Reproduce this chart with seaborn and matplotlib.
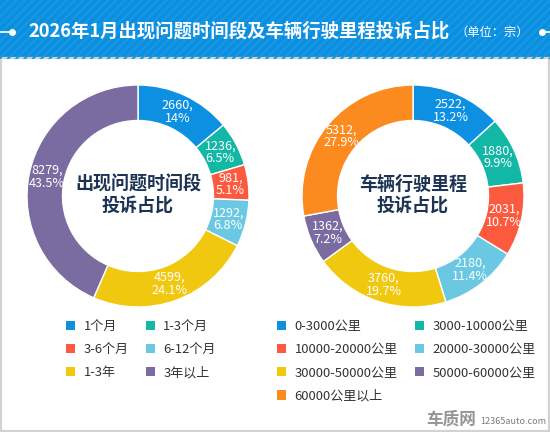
import matplotlib
matplotlib.use("Agg")
import matplotlib.pyplot as plt
import seaborn as sns
import numpy as np
from matplotlib.patches import Rectangle

# data
time_labels = ['1个月', '1-3个月', '3-6个月', '6-12个月', '1-3年', '3年以上']
time_values = [2660, 1236, 981, 1292, 4599, 8279]
time_pcts = ['14%', '6.5%', '5.1%', '6.8%', '24.1%', '43.5%']

km_labels = ['0-3000公里', '3000-10000公里', '10000-20000公里', '20000-30000公里',
             '30000-50000公里', '50000-60000公里', '60000公里以上']
km_values = [2522, 1880, 2031, 2180, 3760, 1362, 5312]
km_pcts = ['13.2%', '9.9%', '10.7%', '11.4%', '19.7%', '7.2%', '27.9%']

colors = ['#0e90e2', '#13b7a5', '#fc5a3f', '#6ac8e3', '#f0c80f', '#7a6ca0', '#fb8b1e']

title = '2026年1月出现问题时间段及车辆行驶里程投诉占比'
unit = '（单位：宗）'

sns.set_theme(style="white")
plt.rcParams['font.family'] = ['Noto Sans CJK SC', 'DejaVu Sans']

W, H = 550, 432
fig = plt.figure(figsize=(5.5, 4.32), dpi=100)
ax = fig.add_axes([0, 0, 1, 1])


def Y(y):
    # top-based pixel y to axes y
    return H - y


def donut(values, pcts, cx, cy, center_text):
    R = 111
    w = 0.32
    wedges, _ = ax.pie(values, colors=sns.color_palette(colors[:len(values)]),
                       startangle=90, counterclock=False, radius=R,
                       center=(cx, Y(cy)),
                       wedgeprops=dict(width=R * w, edgecolor='white', linewidth=1))
    rm = R * (1 - w / 2)
    for wd, v, p in zip(wedges, values, pcts):
        a = np.deg2rad((wd.theta1 + wd.theta2) / 2)
        ax.text(cx + rm * np.cos(a), Y(cy) + rm * np.sin(a), f'{v},\n{p}',
                ha='center', va='center', color='white', fontsize=9.1,
                linespacing=1.0)
    ax.text(cx, Y(cy) + 1, center_text, ha='center', va='center', color='#1c3354',
            fontsize=13, fontweight='bold', linespacing=1.15)
    return wedges


def row_order(items):
    # legend fills by column, the picture reads by row
    return list(items[0::2]) + list(items[1::2])


w1 = donut(time_values, time_pcts, 138, 196, '出现问题时间段\n投诉占比')
w2 = donut(km_values, km_pcts, 413, 196, '车辆行驶里程\n投诉占比')

ax.set_xlim(0, W)
ax.set_ylim(0, H)
ax.set_aspect('equal')
ax.axis('off')

# header bar
ax.add_patch(Rectangle((0, Y(59)), W, 59, facecolor='#0a8fe0', edgecolor='none', zorder=0))
plt.rcParams['hatch.linewidth'] = 1.5
ax.add_patch(Rectangle((0, Y(59)), W, 59, facecolor='none', edgecolor='#1997e3',
                       hatch='////', linewidth=0, zorder=0.5))
# frame
ax.add_patch(Rectangle((0.8, 0.8), W - 1.6, H - 59, facecolor='none', edgecolor='#d2d2d2',
                       linewidth=1.6, zorder=0))

ax.plot([0, 12], [Y(32), Y(32)], color='white', lw=1.2)
ax.plot([12], [Y(32)], 'o', color='white', ms=4)
ax.plot([542, 550], [Y(32), Y(32)], color='white', lw=1.2)
ax.plot([542], [Y(32)], 'o', color='white', ms=4)
ax.text(28, Y(31), title, color='white', fontsize=13.2, fontweight='bold', va='center', ha='left')
ax.text(455, Y(32), unit, color='white', fontsize=8.8, va='center', ha='left')

leg_kw = dict(frameon=False, ncol=2, fontsize=9.4, handlelength=0.7, handleheight=0.7,
              handletextpad=0.65, columnspacing=1.3, labelspacing=0.78,
              borderpad=0, borderaxespad=0, loc='upper left', bbox_transform=ax.transData,
              labelcolor='#333333')
leg1 = ax.legend(row_order(w1), row_order(time_labels), bbox_to_anchor=(66, Y(320)), **leg_kw)
ax.add_artist(leg1)
leg2 = ax.legend(row_order(w2), row_order(km_labels), bbox_to_anchor=(277, Y(320)), **leg_kw)
for lg in (leg1, leg2):
    for h in lg.legend_handles:
        h.set_edgecolor('none')

# watermark
ax.text(426, Y(420), '车质网', color='#7a7a7a', fontsize=12, fontweight='bold',
        va='center', ha='left', alpha=0.8)
ax.text(480, Y(421), '12365auto.com', color='#7a7a7a', fontsize=6.5, va='center', ha='left')

plt.savefig('out.png', dpi=100)
